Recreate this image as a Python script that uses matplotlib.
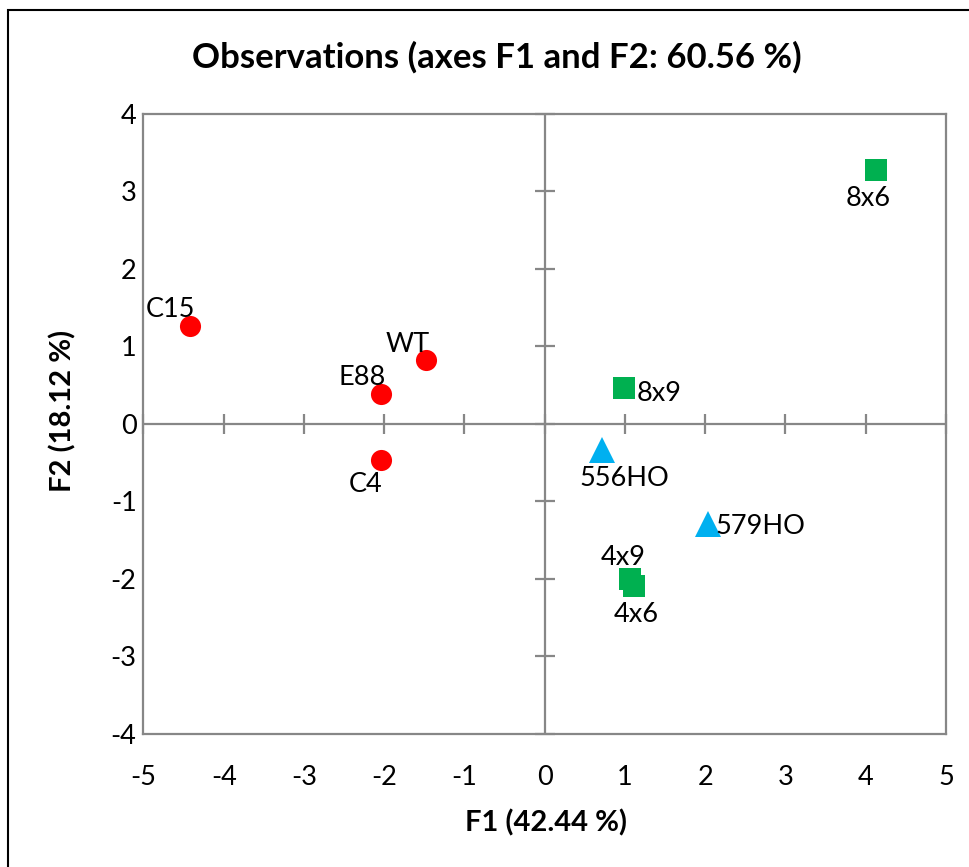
import matplotlib
matplotlib.use("Agg")
import matplotlib.pyplot as plt
from matplotlib.patches import Rectangle

# Observation scores on the first two factors
names = ["C15", "WT", "E88", "C4", "8x6", "8x9", "556HO", "579HO", "4x9", "4x6"]
f1 = [-4.42, -1.48, -2.04, -2.04, 4.13, 0.99, 0.71, 2.04, 1.06, 1.11]
f2 = [1.26, 0.82, 0.39, -0.46, 3.27, 0.46, -0.34, -1.29, -2.00, -2.09]
groups = ["wild", "wild", "wild", "wild", "cross", "cross", "ho", "ho", "cross", "cross"]

x_ticks = [-5, -4, -3, -2, -1, 0, 1, 2, 3, 4, 5]
y_ticks = [-4, -3, -2, -1, 0, 1, 2, 3, 4]

title = "Observations (axes F1 and F2: 60.56 %)"
x_label = "F1 (42.44 %)"
y_label = "F2 (18.12 %)"

# marker style per group
styles = {
    "wild": dict(marker="o", color="#FF0000", ms=15.2),
    "cross": dict(marker="s", color="#00B050", ms=15.6),
    "ho": dict(marker="^", color="#00B0F0", ms=18.5),
}

# label placement: (dx px, dy px from marker centre to baseline, alignment)
label_offsets = {
    "C15": (-20, -9.6, "center"),
    "WT": (-18, -8.6, "center"),
    "E88": (-19, -8.4, "center"),
    "C4": (-15, 32.2, "center"),
    "8x6": (-8.5, 35.6, "center"),
    "8x9": (12, 12.6, "left"),
    "556HO": (23, 35.9, "center"),
    "579HO": (7, 10.1, "left"),
    "4x9": (-7, -13.9, "center"),
    "4x6": (2, 35.6, "center"),
}

FONT = ["Lato", "DejaVu Sans"]
plt.rcParams["font.family"] = FONT
GREY = "#878787"
PX = 0.72  # points per pixel at 100 dpi

fig = plt.figure(figsize=(9.70, 8.67), dpi=100)
ax = fig.add_axes([143.5 / 970, 1 - 734 / 867, (946 - 143.5) / 970, (734 - 113.7) / 867])

ax.set_xlim(x_ticks[0], x_ticks[-1])
ax.set_ylim(y_ticks[0], y_ticks[-1])
ax.set_xticks(x_ticks)
ax.set_yticks(y_ticks)
ax.set_xticklabels([str(t) for t in x_ticks])
ax.set_yticklabels([str(t) for t in y_ticks])
ax.tick_params(axis="both", length=0, labelsize=19.5)
ax.tick_params(axis="x", pad=22)
ax.tick_params(axis="y", pad=5)
for sp in ax.spines.values():
    sp.set_color(GREY)
    sp.set_linewidth(1.6)

# axes through the origin with crossing tick marks
ax.axhline(0, color=GREY, lw=1.6, zorder=1)
ax.axvline(0, color=GREY, lw=1.6, zorder=1)
ax.plot(x_ticks, [0] * len(x_ticks), linestyle="none", marker="|",
        ms=20 * PX, mew=1.6, color=GREY, zorder=1, clip_on=False)
ax.plot([0] * len(y_ticks), y_ticks, linestyle="none", marker="_",
        ms=20 * PX, mew=1.6, color=GREY, zorder=1, clip_on=False)

for name, x, y, g in zip(names, f1, f2, groups):
    st = styles[g]
    ax.plot([x], [y], linestyle="none", marker=st["marker"], ms=st["ms"],
            color=st["color"], mew=0, zorder=3)
    dx, dy, ha = label_offsets[name]
    ax.annotate(name, (x, y), xytext=(dx * PX, -dy * PX), textcoords="offset points",
                ha=ha, va="baseline", fontsize=19.5, color="black", zorder=4)

fig.text(497 / 970, 1 - 57 / 867, title, ha="center", va="center",
         fontsize=25, fontweight="bold")
fig.text(546 / 970, 1 - 823 / 867, x_label, ha="center", va="center",
         fontsize=21, fontweight="bold")
fig.text(63 / 970, 1 - 411 / 867, y_label, ha="center", va="center",
         fontsize=21, fontweight="bold", rotation=90)

# chart area border
fig.patches.append(Rectangle((8 / 970, -0.05), 1.2, 1 - 10 / 867 + 0.05,
                             transform=fig.transFigure, fill=False,
                             edgecolor="black", lw=1.5, zorder=0))

fig.savefig("out.png", dpi=100)
